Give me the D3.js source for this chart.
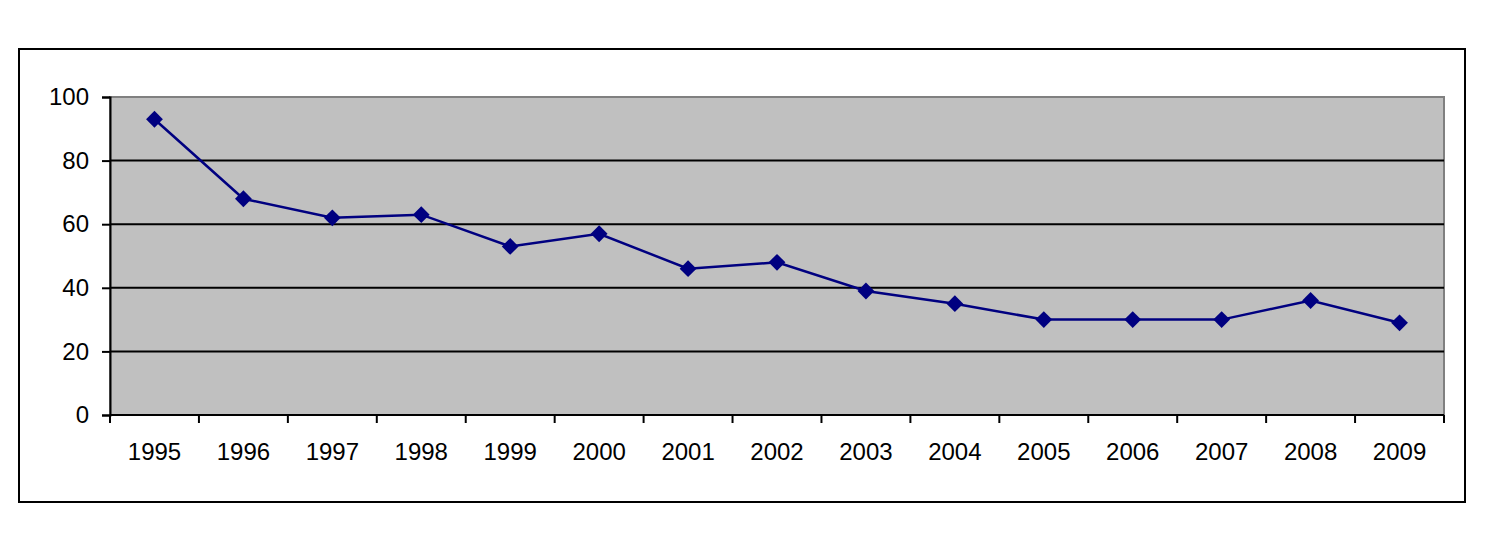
<!DOCTYPE html>
<html><head><meta charset="utf-8">
<script src="https://cdn.jsdelivr.net/npm/d3@7"></script>
<style>body{margin:0;background:#fff}svg{display:block}</style>
</head><body>
<script>
const years = ["1995","1996","1997","1998","1999","2000","2001","2002","2003","2004","2005","2006","2007","2008","2009"];
const values = [93,68,62,63,53,57,46,48,39,35,30,30,30,36,29];
const yTicks = [0,20,40,60,80,100];

const W=1490,H=548;
const svg=d3.select("body").append("svg").attr("width",W).attr("height",H);
svg.append("rect").attr("x",19).attr("y",49).attr("width",1446).attr("height",453)
  .attr("fill","#fff").attr("stroke","#000").attr("stroke-width",2);

const L=110,R=1444,T=97,B=415;
const x=d3.scaleBand().domain(years).range([L,R]);
const y=d3.scaleLinear().domain([0,100]).range([B,T]);

svg.append("rect").attr("x",L).attr("y",T).attr("width",R-L).attr("height",B-T)
  .attr("fill","#c0c0c0").attr("stroke","#808080").attr("stroke-width",2);

const grid=svg.append("g");
yTicks.filter(d=>d>0&&d<100).forEach(d=>{
  grid.append("line").attr("x1",L).attr("x2",R).attr("y1",y(d)).attr("y2",y(d))
    .attr("stroke","#000").attr("stroke-width",2);
});

const font="Arial, 'Liberation Sans', sans-serif";
const yAxis=svg.append("g").attr("transform",`translate(${L},0)`)
  .call(d3.axisLeft(y).tickValues(yTicks).tickSize(8).tickPadding(13));
const xAxis=svg.append("g").attr("transform",`translate(0,${B})`)
  .call(d3.axisBottom(x).tickSize(0).tickPadding(28));
[yAxis,xAxis].forEach(g=>{
  g.selectAll("path.domain").attr("stroke","#000").attr("stroke-width",2);
  g.selectAll("line").attr("stroke","#000").attr("stroke-width",2);
  g.selectAll("text").attr("fill","#000").style("font-family",font).style("font-size","24px");
});
xAxis.select("path.domain").attr("d",`M${L},0H${R}`);
const bounds=years.map(d=>x(d)).concat([R]);
xAxis.selectAll("line.bt").data(bounds).enter().append("line").attr("class","bt")
  .attr("x1",d=>d).attr("x2",d=>d).attr("y1",0).attr("y2",8)
  .attr("stroke","#000").attr("stroke-width",2);

const cx=d=>x(d)+x.bandwidth()/2;
svg.append("path").datum(values)
  .attr("d",d3.line().x((d,i)=>cx(years[i])).y(d=>y(d)))
  .attr("fill","none").attr("stroke","#000080").attr("stroke-width",2.5);
svg.selectAll("path.m").data(values).enter().append("path").attr("class","m")
  .attr("d",d3.symbol().type(d3.symbolDiamond2).size(180))
  .attr("transform",(d,i)=>`translate(${cx(years[i])},${y(d)})`)
  .attr("fill","#000080");
</script>
</body></html>
